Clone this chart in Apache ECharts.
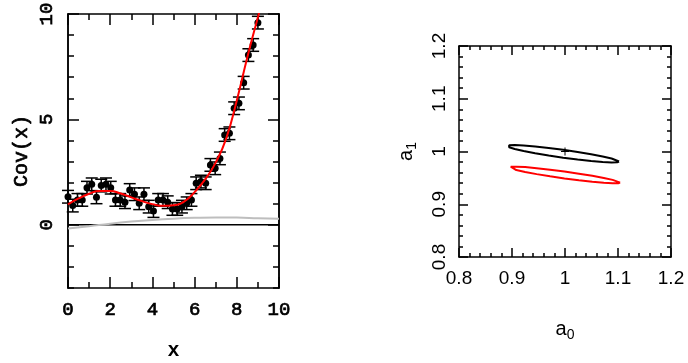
<!DOCTYPE html>
<html><head><meta charset="utf-8">
<script src="https://cdn.jsdelivr.net/npm/echarts@6/dist/echarts.min.js"></script>
<style>html,body{margin:0;padding:0;background:#fff}#c{width:688px;height:363px}</style>
</head><body><div id="c"></div>
<script>
// ---- left panel: Cov(x) data ----
const covX = [0, 0.225, 0.45, 0.675, 0.9, 1.125, 1.35, 1.575, 1.8, 2.025, 2.25, 2.475, 2.7, 2.925, 3.15, 3.375, 3.6, 3.825, 4.05, 4.275, 4.5, 4.725, 4.95, 5.175, 5.4, 5.625, 5.85, 6.075, 6.3, 6.525, 6.75, 6.975, 7.2, 7.425, 7.65, 7.875, 8.1, 8.325, 8.55, 8.775, 9.0];
const covY = [1.33, 0.91, 1.18, 1.18, 1.76, 1.92, 1.30, 1.86, 1.92, 1.76, 1.18, 1.18, 1.07, 1.65, 1.45, 1.02, 1.45, 0.86, 0.65, 1.18, 1.18, 1.07, 0.75, 0.75, 0.86, 1.02, 1.18, 1.97, 2.05, 1.97, 2.84, 2.68, 3.15, 4.26, 4.34, 5.53, 5.76, 6.74, 8.05, 8.53, 9.59];
const covErr = 0.3;
// fitted curve (red)
const fitX = [0, 0.5, 1, 1.5, 2, 2.5, 3, 3.5, 4, 4.5, 5, 5.5, 6, 6.5, 7, 7.5, 8, 8.5, 9, 9.2];
const fitY = [0.97, 1.25, 1.47, 1.6, 1.6, 1.48, 1.3, 1.12, 0.98, 0.9, 0.93, 1.1, 1.55, 2.15, 2.95, 4.1, 5.9, 7.95, 9.85, 10.6];
// gray curve
const grayX = [0, 1, 2, 3, 4, 5, 6, 7, 8, 9, 10];
const grayY = [-0.18, -0.07, 0.05, 0.15, 0.23, 0.29, 0.33, 0.35, 0.34, 0.31, 0.28];
// zero line
const zeroX = [0, 10];
const zeroY = [0, 0];
// tick values
const leftYMajor = [0, 5, 10];

// ---- right panel: confidence ellipses ----
const blackA0 = [1.1020, 1.0984, 1.0879, 1.0711, 1.0493, 1.0238, 0.9965, 0.9692, 0.9437, 0.9219, 0.9051, 0.8946, 0.8910, 0.8946, 0.9051, 0.9219, 0.9437, 0.9692, 0.9965, 1.0238, 1.0493, 1.0711, 1.0879, 1.0984, 1.1020];
const blackA1 = [0.9810, 0.9834, 0.9867, 0.9906, 0.9949, 0.9991, 1.0032, 1.0067, 1.0096, 1.0114, 1.0122, 1.0118, 1.0104, 1.0080, 1.0047, 1.0008, 0.9966, 0.9923, 0.9882, 0.9847, 0.9819, 0.9800, 0.9792, 0.9796, 0.9810];
const redA0 = [1.1040, 1.1004, 1.0899, 1.0732, 1.0515, 1.0262, 0.9990, 0.9718, 0.9465, 0.9248, 0.9081, 0.8976, 0.8940, 0.8976, 0.9081, 0.9248, 0.9465, 0.9718, 0.9990, 1.0262, 1.0515, 1.0732, 1.0899, 1.1004, 1.1040];
const redA1 = [0.9410, 0.9432, 0.9462, 0.9499, 0.9539, 0.9580, 0.9620, 0.9655, 0.9684, 0.9704, 0.9713, 0.9712, 0.9700, 0.9678, 0.9648, 0.9612, 0.9571, 0.9530, 0.9490, 0.9455, 0.9426, 0.9407, 0.9397, 0.9398, 0.9410];
const trueA0 = [1.0];
const trueA1 = [1.0];

const zip = (a, b) => a.map((v, i) => [v, b[i]]);

const monoFont = 'Liberation Mono';
const sansFont = 'Liberation Sans';
const BLACK = '#000';
const monoText = { color: BLACK, fontFamily: monoFont, fontSize: 19, textBorderColor: BLACK, textBorderWidth: 0.7 };

function axisCommon(o) {
  return Object.assign({
    type: 'value',
    axisLine: { show: true, onZero: false, lineStyle: { color: BLACK, width: 1.5 } },
    axisTick: { show: true, inside: true, length: 11, lineStyle: { color: BLACK, width: 1.5 } },
    minorTick: { show: false },
    splitLine: { show: false },
    axisLabel: { show: false }
  }, o);
}

const xAxes = [
  // left panel bottom
  axisCommon({ gridIndex: 0, position: 'bottom', min: 0, max: 10, interval: 2,
    minorTick: { show: true, splitNumber: 2, length: 6, lineStyle: { color: BLACK, width: 1.5 } },
    axisLabel: Object.assign({ show: true, margin: 12 }, monoText),
    name: 'x', nameLocation: 'middle', nameGap: 53,
    nameTextStyle: { color: BLACK, fontFamily: monoFont, fontSize: 20, fontWeight: 'bold' } }),
  // left panel top
  axisCommon({ gridIndex: 0, position: 'top', min: 0, max: 10, interval: 2,
    minorTick: { show: true, splitNumber: 2, length: 6, lineStyle: { color: BLACK, width: 1.5 } } }),
  // right panel bottom
  axisCommon({ gridIndex: 1, position: 'bottom', min: 0.8, max: 1.2, interval: 0.1,
    axisTick: { show: true, inside: true, length: 9, lineStyle: { color: BLACK, width: 1.5 } },
    minorTick: { show: true, splitNumber: 5, length: 4, lineStyle: { color: BLACK, width: 1.5 } },
    axisLabel: { show: true, color: BLACK, fontFamily: sansFont, fontSize: 19, margin: 12 },
    name: '{a|a}{s|0}', nameLocation: 'middle', nameGap: 59,
    nameTextStyle: { color: BLACK, fontFamily: sansFont,
      rich: { a: { fontSize: 20, fontFamily: sansFont, color: BLACK },
              s: { fontSize: 14, fontFamily: sansFont, color: BLACK, padding: [12, 0, 0, 0] } } } }),
  // right panel top
  axisCommon({ gridIndex: 1, position: 'top', min: 0.8, max: 1.2, interval: 0.1,
    axisTick: { show: true, inside: true, length: 9, lineStyle: { color: BLACK, width: 1.5 } },
    minorTick: { show: true, splitNumber: 5, length: 4, lineStyle: { color: BLACK, width: 1.5 } } })
];

const yAxes = [
  // 0: left panel left, major with labels
  axisCommon({ gridIndex: 0, position: 'left', min: -3, max: 10,
    axisTick: { show: true, inside: true, length: 11, customValues: leftYMajor, lineStyle: { color: BLACK, width: 1.5 } },
    axisLabel: Object.assign({ show: true, margin: 12, rotate: 90, customValues: leftYMajor }, monoText),
    name: 'Cov(x)', nameLocation: 'middle', nameGap: 36,
    nameTextStyle: Object.assign({}, monoText, { fontSize: 20 }) }),
  // 1: left panel left, minor ticks
  axisCommon({ gridIndex: 0, position: 'left', min: -3, max: 10, interval: 1,
    axisTick: { show: true, inside: true, length: 6, lineStyle: { color: BLACK, width: 1.5 } } }),
  // 2: left panel right, major
  axisCommon({ gridIndex: 0, position: 'right', min: -3, max: 10,
    axisTick: { show: true, inside: true, length: 11, customValues: leftYMajor, lineStyle: { color: BLACK, width: 1.5 } } }),
  // 3: left panel right, minor
  axisCommon({ gridIndex: 0, position: 'right', min: -3, max: 10, interval: 1,
    axisTick: { show: true, inside: true, length: 6, lineStyle: { color: BLACK, width: 1.5 } } }),
  // 4: right panel left
  axisCommon({ gridIndex: 1, position: 'left', min: 0.8, max: 1.2, interval: 0.1,
    axisTick: { show: true, inside: true, length: 9, lineStyle: { color: BLACK, width: 1.5 } },
    minorTick: { show: true, splitNumber: 5, length: 4, lineStyle: { color: BLACK, width: 1.5 } },
    axisLabel: { show: true, color: BLACK, fontFamily: sansFont, fontSize: 19, margin: 10, rotate: 90 },
    name: '{a|a}{s|1}', nameLocation: 'middle', nameGap: 40,
    nameTextStyle: { color: BLACK, fontFamily: sansFont,
      rich: { a: { fontSize: 20, fontFamily: sansFont, color: BLACK },
              s: { fontSize: 14, fontFamily: sansFont, color: BLACK, padding: [12, 0, 0, 0] } } } }),
  // 5: right panel right
  axisCommon({ gridIndex: 1, position: 'right', min: 0.8, max: 1.2, interval: 0.1,
    axisTick: { show: true, inside: true, length: 9, lineStyle: { color: BLACK, width: 1.5 } },
    minorTick: { show: true, splitNumber: 5, length: 4, lineStyle: { color: BLACK, width: 1.5 } } })
];

function errorBars(params, api) {
  const x = api.value(0), y = api.value(1), e = api.value(2);
  const hi = api.coord([x, y + e]);
  const lo = api.coord([x, y - e]);
  const w = 6;
  const st = { stroke: BLACK, lineWidth: 1.5 };
  return { type: 'group', children: [
    { type: 'line', shape: { x1: hi[0], y1: hi[1], x2: lo[0], y2: lo[1] }, style: st },
    { type: 'line', shape: { x1: hi[0] - w, y1: hi[1], x2: hi[0] + w, y2: hi[1] }, style: st },
    { type: 'line', shape: { x1: lo[0] - w, y1: lo[1], x2: lo[0] + w, y2: lo[1] }, style: st }
  ]};
}

function plusMark(params, api) {
  const p = api.coord([api.value(0), api.value(1)]);
  const s = 4;
  const st = { stroke: BLACK, lineWidth: 1 };
  return { type: 'group', children: [
    { type: 'line', shape: { x1: p[0] - s, y1: p[1], x2: p[0] + s, y2: p[1] }, style: st },
    { type: 'line', shape: { x1: p[0], y1: p[1] - s, x2: p[0], y2: p[1] + s }, style: st }
  ]};
}

const chart = echarts.init(document.getElementById('c'), null, { renderer: 'canvas' });
chart.setOption({
  animation: false,
  backgroundColor: '#fff',
  grid: [
    { left: 68, top: 14, width: 211, height: 274, outerBoundsMode: 'none', containLabel: false },
    { left: 459, top: 46, width: 212, height: 211, outerBoundsMode: 'none', containLabel: false }
  ],
  xAxis: xAxes,
  yAxis: yAxes,
  series: [
    { type: 'line', xAxisIndex: 0, yAxisIndex: 0, data: zip(zeroX, zeroY), showSymbol: false,
      lineStyle: { color: BLACK, width: 1.5 }, z: 2 },
    { type: 'line', xAxisIndex: 0, yAxisIndex: 0, data: zip(grayX, grayY), showSymbol: false, smooth: true,
      lineStyle: { color: '#bebebe', width: 2 }, z: 3 },
    { type: 'custom', xAxisIndex: 0, yAxisIndex: 0, renderItem: errorBars,
      data: covX.map((x, i) => [x, covY[i], covErr]), z: 4 },
    { type: 'scatter', xAxisIndex: 0, yAxisIndex: 0, data: zip(covX, covY), symbol: 'circle', symbolSize: 7,
      itemStyle: { color: BLACK, opacity: 1 }, z: 5 },
    { type: 'line', xAxisIndex: 0, yAxisIndex: 0, data: zip(fitX, fitY), showSymbol: false, smooth: true,
      lineStyle: { color: '#ff0000', width: 2 }, z: 6, clip: true },
    { type: 'line', xAxisIndex: 2, yAxisIndex: 4, data: zip(blackA0, blackA1), showSymbol: false,
      lineStyle: { color: BLACK, width: 2 }, z: 5 },
    { type: 'line', xAxisIndex: 2, yAxisIndex: 4, data: zip(redA0, redA1), showSymbol: false,
      lineStyle: { color: '#ff0000', width: 2 }, z: 5 },
    { type: 'custom', xAxisIndex: 2, yAxisIndex: 4, renderItem: plusMark, data: zip(trueA0, trueA1), z: 6 }
  ]
});
</script>
</body></html>
